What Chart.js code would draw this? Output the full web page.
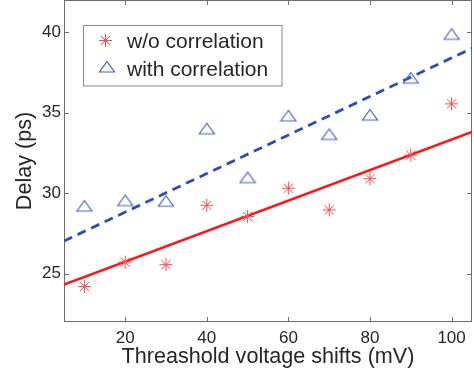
<!DOCTYPE html>
<html>
<head>
<meta charset="utf-8">
<script src="https://cdn.jsdelivr.net/npm/chart.js"></script>
<style>
  html, body { margin: 0; padding: 0; background: #ffffff; }
  #wrap { width: 474px; height: 374px; }
</style>
</head>
<body>
<div id="wrap"><canvas id="c" width="474" height="374"></canvas></div>
<script>
// ---- data ----
const xValues = [10, 20, 30, 40, 50, 60, 70, 80, 90, 100];
const woCorrelation = [24.2, 25.72, 25.56, 29.25, 28.55, 30.31, 28.96, 30.9, 32.36, 35.55];
const withCorrelation = [29.2, 29.54, 29.5, 34.0, 30.97, 34.8, 33.65, 34.85, 37.15, 39.87];
const fitX = [5, 105];
const woFit = [24.32, 33.81];
const withFit = [27.03, 39.0];
const xTicks = [20, 40, 60, 80, 100];
const yTicks = [25, 30, 35, 40];
const seriesLabels = ['w/o correlation', 'with correlation'];
const xTitle = 'Threashold voltage shifts (mV)';
const yTitle = 'Delay (ps)';

const FONT = '"Liberation Sans", Arial, Helvetica, sans-serif';
const TEXT = '#262626';
const AXIS = '#6e6e6e';
const RED_LINE = '#ff1414';
const RED_MARK = '#ff4a4a';
const BLUE_LINE = '#2c4db5';
const BLUE_MARK = '#4464c4';

const pts = (xs, ys) => xs.map((x, i) => ({ x: x, y: ys[i] }));

// MATLAB-like '^' marker (wider than tall), used as a Chart.js pointStyle image
function makeTriangleMarker() {
  const c = document.createElement('canvas');
  c.width = 18; c.height = 14;
  const g = c.getContext('2d');
  g.strokeStyle = BLUE_MARK;
  g.lineWidth = 1.2;
  g.beginPath();
  g.moveTo(9, 1.5);
  g.lineTo(1.5, 12);
  g.lineTo(16.5, 12);
  g.closePath();
  g.stroke();
  return c;
}
const triMarker = makeTriangleMarker();

function drawStar(ctx, x, y, r) {
  ctx.beginPath();
  ctx.moveTo(x - r, y); ctx.lineTo(x + r, y);
  ctx.moveTo(x, y - r); ctx.lineTo(x, y + r);
  const d = r * Math.SQRT1_2;
  ctx.moveTo(x - d, y - d); ctx.lineTo(x + d, y + d);
  ctx.moveTo(x - d, y + d); ctx.lineTo(x + d, y - d);
  ctx.stroke();
}

const framePlugin = {
  id: 'frame',
  beforeDatasetsDraw(chart) {
    const { ctx, chartArea: a, scales } = chart;
    ctx.save();
    ctx.strokeStyle = AXIS;
    ctx.lineWidth = 1;
    ctx.strokeRect(Math.round(a.left) + 0.5, Math.round(a.top) + 0.5,
      Math.round(a.right - a.left) - 1, Math.round(a.bottom - a.top) - 1);
    const tl = 5;
    ctx.beginPath();
    xTicks.forEach(v => {
      const px = Math.round(scales.x.getPixelForValue(v)) + 0.5;
      ctx.moveTo(px, a.bottom); ctx.lineTo(px, a.bottom - tl);
      ctx.moveTo(px, a.top); ctx.lineTo(px, a.top + tl);
    });
    yTicks.forEach(v => {
      const py = Math.round(scales.y.getPixelForValue(v)) + 0.5;
      ctx.moveTo(a.left, py); ctx.lineTo(a.left + tl, py);
      ctx.moveTo(a.right, py); ctx.lineTo(a.right - tl, py);
    });
    ctx.stroke();
    ctx.restore();
  },
  afterDraw(chart) {
    const ctx = chart.ctx;
    ctx.save();
    // legend box
    ctx.fillStyle = '#ffffff';
    ctx.fillRect(83.5, 25.5, 198.5, 60.5);
    ctx.strokeStyle = '#8a8a8a';
    ctx.lineWidth = 1;
    ctx.strokeRect(83.5, 25.5, 198.5, 60.5);
    // markers
    ctx.lineWidth = 1;
    ctx.strokeStyle = RED_MARK;
    drawStar(ctx, 105.5, 40.5, 6.5);
    ctx.drawImage(triMarker, 107 - triMarker.width / 2, 67 - triMarker.height / 2);
    // text
    ctx.fillStyle = TEXT;
    ctx.font = '21px ' + FONT;
    ctx.textAlign = 'left';
    ctx.textBaseline = 'alphabetic';
    ctx.fillText(seriesLabels[0], 127, 47.5);
    ctx.fillText(seriesLabels[1], 127, 76);
    ctx.restore();
  }
};

new Chart(document.getElementById('c'), {
  type: 'scatter',
  data: {
    datasets: [
      {
        label: seriesLabels[0],
        data: pts(xValues, woCorrelation),
        pointStyle: 'star',
        pointRadius: 6.5,
        borderColor: RED_MARK,
        backgroundColor: 'rgba(0,0,0,0)',
        borderWidth: 1,
        showLine: false
      },
      {
        label: seriesLabels[1],
        data: pts(xValues, withCorrelation),
        pointStyle: triMarker,
        pointRadius: 8,
        borderColor: BLUE_MARK,
        backgroundColor: 'rgba(0,0,0,0)',
        borderWidth: 1,
        showLine: false
      },
      {
        label: seriesLabels[0] + ' fit',
        data: pts(fitX, woFit),
        showLine: true,
        borderColor: RED_LINE,
        borderWidth: 2.6,
        pointRadius: 0,
        fill: false
      },
      {
        label: seriesLabels[1] + ' fit',
        data: pts(fitX, withFit),
        showLine: true,
        borderColor: BLUE_LINE,
        borderWidth: 2.8,
        borderDash: [9, 6],
        pointRadius: 0,
        fill: false
      }
    ]
  },
  options: {
    responsive: false,
    animation: false,
    events: [],
    layout: { autoPadding: false, padding: { top: 0, right: 2, left: 0, bottom: 0 } },
    plugins: { legend: { display: false }, tooltip: { enabled: false } },
    scales: {
      x: {
        type: 'linear',
        min: 5, max: 105,
        afterBuildTicks: s => { s.ticks = xTicks.map(v => ({ value: v })); },
        afterFit: s => { s.height = 52; s.paddingLeft = 0; s.paddingRight = 0; },
        grid: { display: false, drawTicks: false },
        border: { display: false },
        ticks: { color: TEXT, font: { family: FONT, size: 17 }, padding: 6, maxRotation: 0 },
        title: { display: true, text: xTitle, color: TEXT, font: { family: FONT, size: 21.6 }, padding: { top: 0, bottom: 4 } }
      },
      y: {
        type: 'linear',
        min: 22, max: 42,
        afterBuildTicks: s => { s.ticks = yTicks.map(v => ({ value: v })); },
        afterFit: s => { s.width = 64; s.paddingTop = 0; s.paddingBottom = 0; },
        grid: { display: false, drawTicks: false },
        border: { display: false },
        ticks: { color: TEXT, font: { family: FONT, size: 17 }, padding: 3 },
        title: { display: true, text: yTitle, color: TEXT, font: { family: FONT, size: 21.6 }, padding: { top: 12.5, bottom: 0 } }
      }
    }
  },
  plugins: [framePlugin]
});
</script>
</body>
</html>
